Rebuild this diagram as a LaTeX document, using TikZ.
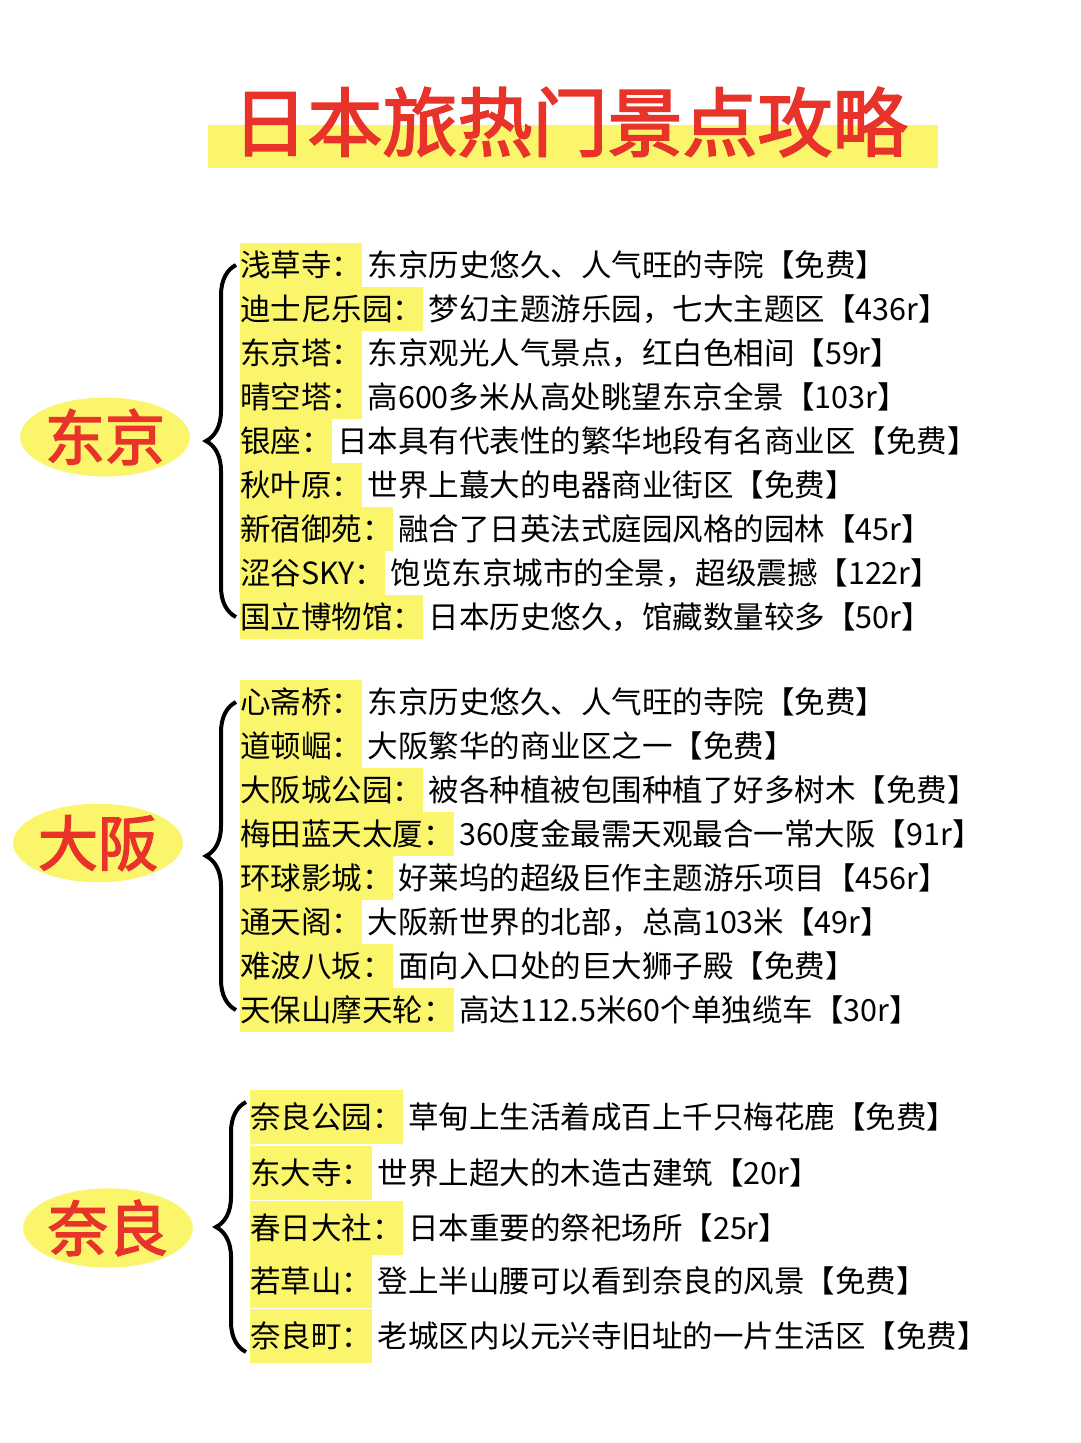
\documentclass[tikz,border=0pt]{standalone}
\usepackage{fontspec}
\newfontfamily\cjk{Noto Sans CJK SC}
\newfontfamily\cjkb[FakeBold=2.5]{Noto Sans CJK SC}
\usetikzlibrary{positioning,decorations.pathreplacing,shapes.geometric}
\definecolor{hl}{HTML}{FAF56A}
\definecolor{tred}{HTML}{E8332A}
\tikzset{
 lab/.style={fill=hl,inner xsep=0pt,inner ysep=0pt,minimum height=44pt,anchor=west,font=\cjk\fontsize{30.5}{30}\selectfont},
 txt/.style={inner xsep=0pt,inner ysep=0pt,anchor=west,font=\cjk\fontsize{30.5}{30}\selectfont},
 city/.style={fill=hl,ellipse,inner sep=0pt,minimum width=135pt,minimum height=68pt,text=tred,font=\cjkb\fontsize{60}{60}\selectfont},
 br/.style={decorate,decoration={brace,amplitude=30pt},line width=4pt}
}
\begin{document}
\begin{tikzpicture}[x=1pt,y=-1pt]
\fill[white] (0,0) rectangle (1080,1443);
\useasboundingbox (0,0) rectangle (1080,1443);
\fill[hl] (208,125) rectangle (938,168);
\node[text=tred,font=\cjkb\fontsize{75}{75}\selectfont,inner sep=0] (title) at (570,122) {日本旅热门景点攻略};
\def\row#1#2#3#4#5{\node[lab] (#1) at (#2,#3) {#4}; \node[txt,right=5pt of #1] (#1t) {#5};}
\row{a1}{240}{265}{浅草寺：}{东京历史悠久、人气旺的寺院【免费】}
\row{a2}{240}{309}{迪士尼乐园：}{梦幻主题游乐园，七大主题区【436r】}
\row{a3}{240}{353}{东京塔：}{东京观光人气景点，红白色相间【59r】}
\row{a4}{240}{397}{晴空塔：}{高600多米从高处眺望东京全景【103r】}
\row{a5}{240}{441}{银座：}{日本具有代表性的繁华地段有名商业区【免费】}
\row{a6}{240}{485}{秋叶原：}{世界上蕞大的电器商业街区【免费】}
\row{a7}{240}{529}{新宿御苑：}{融合了日英法式庭园风格的园林【45r】}
\row{a8}{240}{573}{涩谷SKY：}{饱览东京城市的全景，超级震撼【122r】}
\row{a9}{240}{617}{国立博物馆：}{日本历史悠久，馆藏数量较多【50r】}
\node[city] (tokyo) at (105,437) {东京};
\draw[br] (236,617) -- (236,265);
\row{b1}{240}{702}{心斋桥：}{东京历史悠久、人气旺的寺院【免费】}
\row{b2}{240}{746}{道顿崛：}{大阪繁华的商业区之一【免费】}
\row{b3}{240}{790}{大阪城公园：}{被各种植被包围种植了好多树木【免费】}
\row{b4}{240}{834}{梅田蓝天太厦：}{360度金最需天观最合一常大阪【91r】}
\row{b5}{240}{878}{环球影城：}{好莱坞的超级巨作主题游乐项目【456r】}
\row{b6}{240}{922}{通天阁：}{大阪新世界的北部，总高103米【49r】}
\row{b7}{240}{966}{难波八坂：}{面向入口处的巨大狮子殿【免费】}
\row{b8}{240}{1010}{天保山摩天轮：}{高达112.5米60个单独缆车【30r】}
\node[city] (osaka) at (98,843) {大阪};
\draw[br] (236,1010) -- (236,702);
\tikzset{lab/.append style={minimum height=54pt}}
\row{c1}{250}{1117}{奈良公园：}{草甸上生活着成百上千只梅花鹿【免费】}
\row{c2}{250}{1173}{东大寺：}{世界上超大的木造古建筑【20r】}
\row{c3}{250}{1228}{春日大社：}{日本重要的祭祀场所【25r】}
\row{c4}{250}{1281}{若草山：}{登上半山腰可以看到奈良的风景【免费】}
\row{c5}{250}{1336}{奈良町：}{老城区内以元兴寺旧址的一片生活区【免费】}
\node[city] (nara) at (108,1228) {奈良};
\draw[br] (246,1352) -- (246,1102);
\end{tikzpicture}
\end{document}
